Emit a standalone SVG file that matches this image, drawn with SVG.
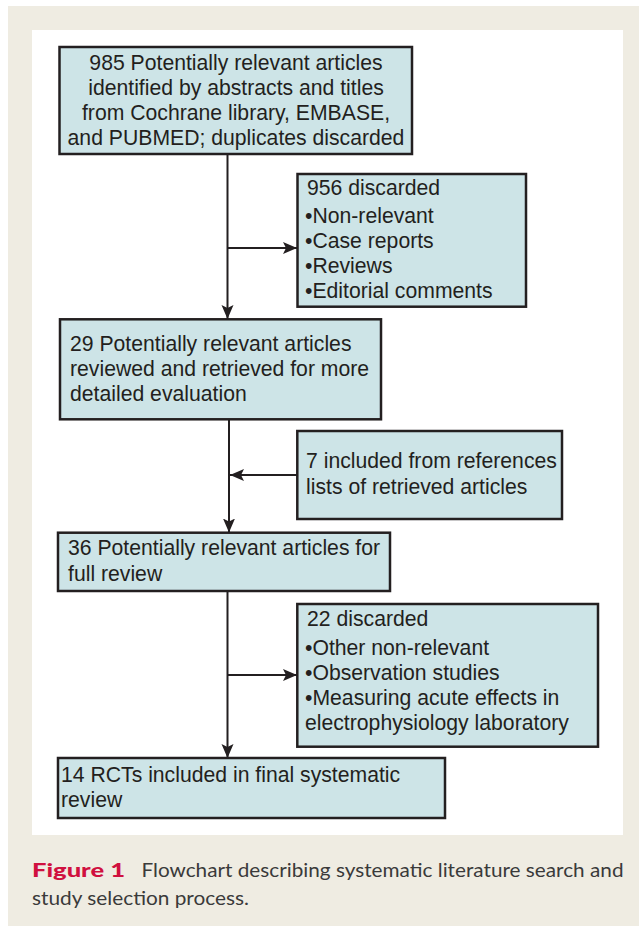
<svg xmlns="http://www.w3.org/2000/svg" width="639" height="926" viewBox="0 0 639 926">
<defs>
<style>
.box{fill:#cde4e7;stroke:#231f20;stroke-width:2.5}
.t{font-family:"Liberation Sans",Arial,sans-serif;font-size:21.2px;fill:#231f20}
.c{text-anchor:middle}
.ln{fill:none;stroke:#231f20;stroke-width:2;marker-end:url(#ah)}
.cap{font-family:Lato,"Open Sans",sans-serif;font-size:19px;fill:#3a3a3a}
.fig{font-family:Lato,"Open Sans",sans-serif;font-size:19px;font-weight:900;fill:#d0103f}
</style>
<marker id="ah" markerUnits="userSpaceOnUse" markerWidth="15" markerHeight="13" refX="14" refY="6" orient="auto">
<path d="M0,0 L14,6 L0,12 L3,6 z" fill="#231f20"/>
</marker>
</defs>
<rect x="0" y="0" width="639" height="926" fill="#ffffff"/>
<rect x="8" y="6" width="631" height="920" fill="#efece2"/>
<rect x="32" y="30" width="591" height="805" fill="#ffffff"/>

<g id="connectors">
<path class="ln" d="M227.5,154 V319"/>
<path class="ln" d="M227.5,248 H297"/>
<path class="ln" d="M229,419 V532.5"/>
<path class="ln" d="M297,475 H230"/>
<path class="ln" d="M227.5,591 V758"/>
<path class="ln" d="M227.5,675 H297"/>
</g>

<g id="n985">
<rect class="box" x="59.5" y="47" width="352.5" height="107"/>
<text class="t c" x="236" y="70">985 Potentially relevant articles</text>
<text class="t c" x="236" y="95">identified by abstracts and titles</text>
<text class="t c" x="236" y="120">from Cochrane library, EMBASE,</text>
<text class="t c" x="236" y="145">and PUBMED; duplicates discarded</text>
</g>

<g id="n956">
<rect class="box" x="297.5" y="174" width="228.5" height="132.7"/>
<text class="t" x="307" y="195">956 discarded</text>
<text class="t" x="305" y="223">•Non-relevant</text>
<text class="t" x="305" y="248">•Case reports</text>
<text class="t" x="305" y="273">•Reviews</text>
<text class="t" x="305" y="298">•Editorial comments</text>
</g>

<g id="n29">
<rect class="box" x="60" y="319.3" width="321" height="100"/>
<text class="t" x="70" y="351">29 Potentially relevant articles</text>
<text class="t" x="70" y="376">reviewed and retrieved for more</text>
<text class="t" x="70" y="401">detailed evaluation</text>
</g>

<g id="n7">
<rect class="box" x="297.3" y="431" width="264.7" height="88"/>
<text class="t" x="306" y="468">7 included from references</text>
<text class="t" x="306" y="494">lists of retrieved articles</text>
</g>

<g id="n36">
<rect class="box" x="58" y="532.7" width="332" height="58.3"/>
<text class="t" x="68" y="555">36 Potentially relevant articles for</text>
<text class="t" x="68" y="581">full review</text>
</g>

<g id="n22">
<rect class="box" x="297.3" y="604" width="300.7" height="142.7"/>
<text class="t" x="307" y="626">22 discarded</text>
<text class="t" x="305" y="655">•Other non-relevant</text>
<text class="t" x="305" y="680">•Observation studies</text>
<text class="t" x="305" y="705">•Measuring acute effects in</text>
<text class="t" x="305" y="730">electrophysiology laboratory</text>
</g>

<g id="n14">
<rect class="box" x="58" y="758" width="387" height="60"/>
<text class="t" x="61" y="782">14 RCTs included in final systematic</text>
<text class="t" x="61" y="807">review</text>
</g>

<g id="caption">
<text class="fig" x="32" y="877" textLength="93" lengthAdjust="spacingAndGlyphs">Figure 1</text>
<text class="cap" x="141.5" y="877" textLength="482" lengthAdjust="spacingAndGlyphs">Flowchart describing systematic literature search and</text>
<text class="cap" x="32" y="905" textLength="217" lengthAdjust="spacingAndGlyphs">study selection process.</text>
</g>
</svg>
